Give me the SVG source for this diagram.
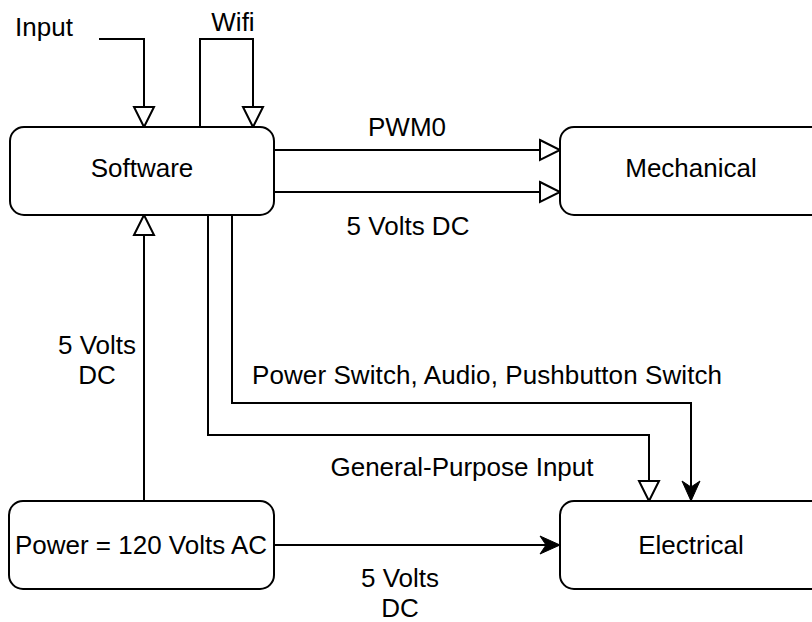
<svg xmlns="http://www.w3.org/2000/svg" width="812" height="622" viewBox="0 0 812 622">
<style>
.box{fill:#fff;stroke:#000;stroke-width:2}
.ln{fill:none;stroke:#000;stroke-width:2}
text{font-family:"Liberation Sans",Arial,sans-serif;font-size:26px;fill:#000}
.c{text-anchor:middle}
</style>
<defs>
<marker id="open" markerUnits="userSpaceOnUse" markerWidth="24" markerHeight="24" refX="21" refY="10" orient="auto" overflow="visible">
<path d="M1,0 L21,10 L1,20 Z" fill="#fff" stroke="#000" stroke-width="2"/>
</marker>
<marker id="solid" markerUnits="userSpaceOnUse" markerWidth="24" markerHeight="24" refX="20" refY="9" orient="auto" overflow="visible">
<path d="M0,0 L20,9 L0,18 L6,9 Z" fill="#000" stroke="#000" stroke-width="1"/>
</marker>
</defs>
<g id="connectors">
<path class="ln" d="M99,39 H144 V127" marker-end="url(#open)"/>
<path class="ln" d="M200,127 V39 H253 V127" marker-end="url(#open)"/>
<path class="ln" d="M274,150 H560" marker-end="url(#open)"/>
<path class="ln" d="M274,192 H560" marker-end="url(#open)"/>
<path class="ln" d="M232,215 V403 H691 V501" marker-end="url(#solid)"/>
<path class="ln" d="M208,215 V435 H649 V501" marker-end="url(#open)"/>
<path class="ln" d="M144,501 V215" marker-end="url(#open)"/>
<path class="ln" d="M274,545 H560" marker-end="url(#solid)"/>
<text x="44" y="36" class="c">Input</text>
<text x="233" y="31" class="c">Wifi</text>
<text x="407" y="136" class="c">PWM0</text>
<text x="408" y="235" class="c">5 Volts DC</text>
<text x="252" y="384" textLength="470">Power Switch, Audio, Pushbutton Switch</text>
<text x="462" y="476" class="c">General-Purpose Input</text>
<text x="97" y="354" class="c">5 Volts</text>
<text x="97" y="384" class="c">DC</text>
<text x="400" y="587" class="c">5 Volts</text>
<text x="400" y="617" class="c">DC</text>
</g>
<g id="software">
<rect class="box" x="10" y="127" width="264" height="88" rx="14"/>
<text x="142" y="177" class="c">Software</text>
</g>
<g id="mechanical">
<rect class="box" x="560" y="127" width="270" height="88" rx="14"/>
<text x="691" y="177" class="c">Mechanical</text>
</g>
<g id="power">
<rect class="box" x="9" y="501" width="265" height="88" rx="14"/>
<text x="141" y="554" class="c">Power = 120 Volts AC</text>
</g>
<g id="electrical">
<rect class="box" x="560" y="501" width="270" height="88" rx="14"/>
<text x="691" y="554" class="c">Electrical</text>
</g>
</svg>
